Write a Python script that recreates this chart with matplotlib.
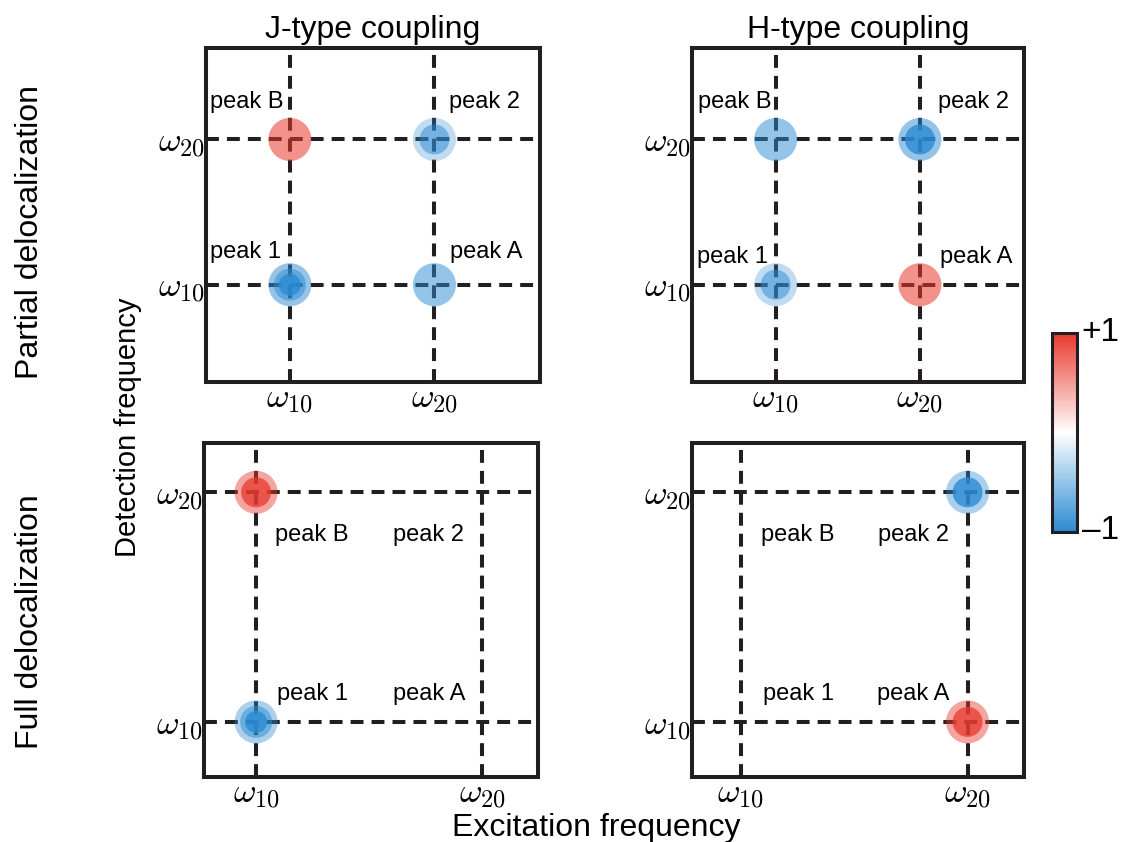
import matplotlib
matplotlib.use('Agg')
import matplotlib.pyplot as plt
import numpy as np
from matplotlib.colors import LinearSegmentedColormap, Normalize
from matplotlib.colorbar import ColorbarBase

plt.rcParams['font.family'] = ['Liberation Sans', 'DejaVu Sans']
plt.rcParams['mathtext.fontset'] = 'cm'

# Peak grid: excitation / detection index (1 -> w10, 2 -> w20)
peak_labels = ['peak 1', 'peak 2', 'peak A', 'peak B']
peak_exc = [1, 2, 2, 1]
peak_det = [1, 2, 1, 2]
freq_ticks = [1, 2]
freq_ticklabels = [r'$\omega_{10}$', r'$\omega_{20}$']

# Signed layer strengths of each peak, outer ring -> centre
j_partial = [[-0.5, -0.5, -0.8], [-0.3, -0.5], [-0.5], [0.55]]
h_partial = [[-0.3, -0.5], [-0.5, -0.8], [0.55], [-0.5]]
j_full = [[-0.4, -0.5, -0.8], [], [], [0.45, 0.75]]
h_full = [[], [-0.4, -0.8], [0.45, 0.75], []]

col_titles = ['J-type coupling', 'H-type coupling']
row_titles = ['Partial delocalization', 'Full delocalization']

cmap = LinearSegmentedColormap.from_list('rb', ['#2b8bd2', '#ffffff', '#e8392d'])
norm = Normalize(-1, 1)
ink = '#231f20'

# disc sizes (points^2) by number of layers
layer_sizes = {1: [960], 2: [960, 465], 3: [960, 530, 250]}

# label anchors in axes fraction (x centre, baseline)
label_pos_partial_j = [(0.117, 0.371), (0.834, 0.82), (0.84, 0.371), (0.122, 0.82)]
label_pos_partial_h = [(0.123, 0.356), (0.849, 0.82), (0.857, 0.356), (0.129, 0.82)]
label_pos_full_j = [(0.325, 0.23), (0.671, 0.707), (0.673, 0.23), (0.323, 0.707)]
label_pos_full_h = [(0.32, 0.23), (0.667, 0.707), (0.666, 0.23), (0.318, 0.707)]

fig = plt.figure(figsize=(11.21, 8.42), dpi=100)
axes_rect = [
    [0.1838, 0.5463, 0.2979, 0.3967],
    [0.6173, 0.5463, 0.2960, 0.3967],
    [0.1820, 0.0772, 0.2979, 0.3967],
    [0.6173, 0.0772, 0.2960, 0.3967],
]
panels = [j_partial, h_partial, j_full, h_full]
label_pos = [label_pos_partial_j, label_pos_partial_h, label_pos_full_j, label_pos_full_h]
limits = [((0.42, 2.73), (0.33, 2.63)), ((0.42, 2.72), (0.33, 2.63)),
          ((0.77, 2.245), (0.76, 2.215)), ((0.785, 2.248), (0.76, 2.215))]

for k, (rect, layers, lpos, (xl, yl)) in enumerate(zip(axes_rect, panels, label_pos, limits)):
    ax = fig.add_axes(rect)
    ax.set_xlim(*xl)
    ax.set_ylim(*yl)
    for f in freq_ticks:
        ax.axvline(f, color=ink, lw=2.9, ls=(0, (3.2, 2.0)), zorder=1)
        ax.axhline(f, color=ink, lw=2.9, ls=(0, (3.2, 2.0)), zorder=1)
    for i, lay in enumerate(layers):
        if not lay:
            continue
        sizes = layer_sizes[len(lay)]
        for amp, s in zip(lay, sizes):
            c = cmap(norm(np.sign(amp)))
            ax.scatter(peak_exc[i], peak_det[i], s=s, color=c, alpha=abs(amp),
                       edgecolors='none', zorder=2)
    for name, (tx, ty) in zip(peak_labels, lpos):
        ax.text(tx, ty, name, transform=ax.transAxes, ha='center', va='baseline',
                fontsize=17, color='black')
    ax.set_xticks(freq_ticks)
    ax.set_xticklabels(freq_ticklabels)
    ax.set_yticks(freq_ticks)
    ax.set_yticklabels(freq_ticklabels)
    ax.tick_params(length=0, labelsize=25, pad=1)
    for sp in ax.spines.values():
        sp.set_linewidth(2.9)
        sp.set_color(ink)
    if k < 2:
        ax.set_title(col_titles[k], fontsize=23, pad=7)

# shared labels
fig.text(0.027, 0.724, row_titles[0], rotation=90, ha='center', va='center', fontsize=23)
fig.text(0.027, 0.262, row_titles[1], rotation=90, ha='center', va='center', fontsize=23)
fig.text(0.114, 0.492, 'Detection frequency', rotation=90, ha='center', va='center', fontsize=21)
fig.text(0.532, 0.017, 'Excitation frequency', ha='center', va='center', fontsize=23)

# colour bar
cax = fig.add_axes([0.9384, 0.3682, 0.0223, 0.2363])
cb = ColorbarBase(cax, cmap=cmap, norm=norm, orientation='vertical')
cb.set_ticks([])
cb.outline.set_linewidth(2.2)
cb.outline.set_edgecolor(ink)
fig.text(0.982, 0.605, '+1', ha='center', va='center', fontsize=24)
fig.text(0.982, 0.37, '\u20131', ha='center', va='center', fontsize=24)

fig.savefig('out.png', dpi=100)
